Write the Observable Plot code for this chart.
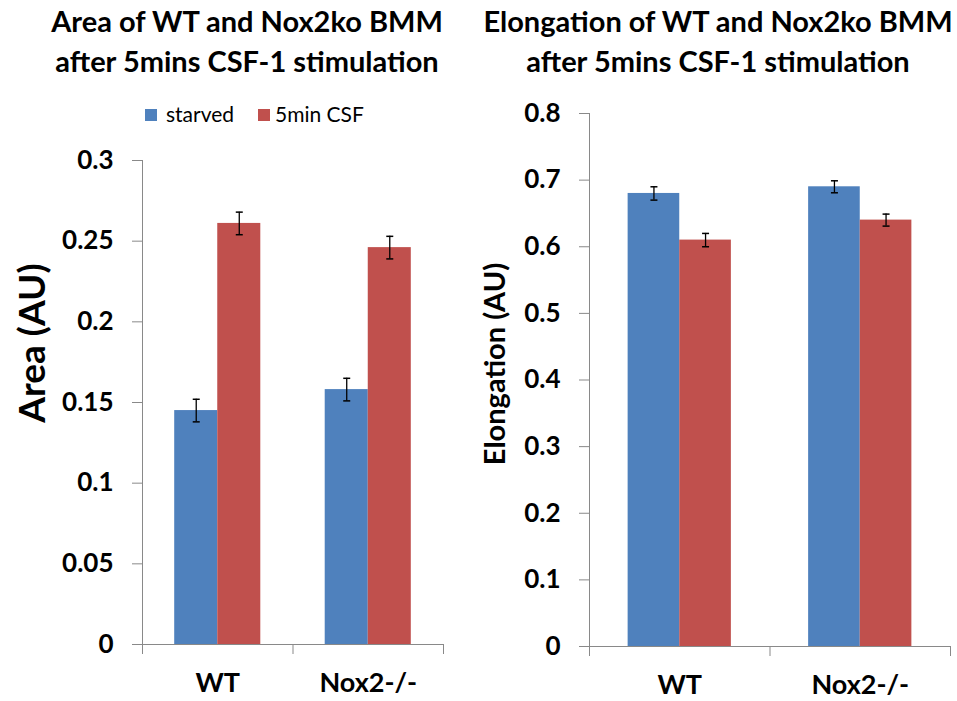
<!DOCTYPE html>
<html><head><meta charset="utf-8">
<script src="https://cdn.jsdelivr.net/npm/d3@7"></script>
<script src="https://cdn.jsdelivr.net/npm/@observablehq/plot@0.6"></script>
<style>
body{margin:0;background:#fff;font-family:Lato,"Open Sans",sans-serif;color:#000;}
#root{position:relative;width:957px;height:701px;overflow:hidden;background:#fff;}
.title{position:absolute;font-weight:700;font-size:29px;line-height:40px;text-align:center;white-space:nowrap;transform:translateX(-50%);}
.ylab{position:absolute;font-weight:700;white-space:nowrap;transform:translate(-50%,-50%) rotate(-90deg);line-height:1;}
.legend{position:absolute;font-size:21px;white-space:nowrap;line-height:1;}
.sw{position:absolute;width:12px;height:12px;}
.panel{position:absolute;}
.panel svg text{font-weight:700;}
</style></head><body><div id="root"></div>
<script>
const categories = ["WT", "Nox2-/-"];
const series = ["starved", "5min CSF"];
const colors = ["#4F81BD", "#C0504D"];

const areaStarved = [0.145, 0.158];
const areaCSF = [0.261, 0.246];
const areaStarvedErr = [0.007, 0.007];
const areaCSFErr = [0.007, 0.007];
const areaTicks = [0, 0.05, 0.1, 0.15, 0.2, 0.25, 0.3];

const elongStarved = [0.68, 0.69];
const elongCSF = [0.61, 0.64];
const elongStarvedErr = [0.010, 0.009];
const elongCSFErr = [0.010, 0.009];
const elongTicks = [0, 0.1, 0.2, 0.3, 0.4, 0.5, 0.6, 0.7, 0.8];

const titles = [
  ["Area of WT and Nox2ko BMM", "after 5mins CSF-1 stimulation"],
  ["Elongation of WT and Nox2ko BMM", "after 5mins CSF-1 stimulation"]
];
const yLabels = ["Area (AU)", "Elongation (AU)"];

const root = document.getElementById("root");

function rowsOf(vals, errs) {
  const rows = [];
  categories.forEach((c, i) => {
    series.forEach((s, j) => {
      rows.push({cat: c, ci: i, ser: s, sj: j, v: vals[j][i], e: errs[j][i]});
    });
  });
  return rows;
}

const OFF = 0.214, BW = 0.286;
const grey = "#898989";

function panel(rows, ticks, opts) {
  const xr = opts.width - opts.marginLeft - opts.marginRight;
  const cap = 3.5 / (xr / 2);
  const x1 = d => d.ci + OFF + d.sj * BW;
  const x2 = d => x1(d) + BW;
  const xc = d => x1(d) + BW / 2;
  const p = Plot.plot({
    width: opts.width, height: opts.height,
    marginTop: opts.marginTop, marginBottom: opts.marginBottom,
    marginLeft: opts.marginLeft, marginRight: opts.marginRight,
    x: {domain: [0, 2], label: null},
    y: {domain: [0, ticks[ticks.length - 1]], label: null},
    color: {domain: series, range: colors},
    style: {fontFamily: "Lato, 'Open Sans', sans-serif", background: "white", overflow: "visible", color: "black"},
    marks: [
      Plot.rectY(rows, {x1, x2, y1: 0, y2: "v", fill: "ser"}),
      Plot.ruleX([0], {stroke: grey}),
      Plot.ruleY([0], {stroke: grey}),
      Plot.axisY({ticks, tickSize: 10, tickPadding: 19, tickFormat: d => String(d), fontSize: 26, fontWeight: "bold", stroke: grey, fill: "black", label: null}),
      Plot.axisX({ticks: [0, 1, 2], tickSize: 10, tickFormat: () => "", stroke: grey, label: null}),
      Plot.axisX({ticks: [0.5, 1.5], tickSize: 0, tickPadding: 28, tickFormat: d => categories[Math.floor(d)], fontSize: 27, fontWeight: "bold", fill: "black", label: null}),
      Plot.ruleX(rows, {x: xc, y1: d => d.v - d.e, y2: d => d.v + d.e, stroke: "black", strokeWidth: 1.3}),
      Plot.link(rows, {x1: d => xc(d) - cap, x2: d => xc(d) + cap, y1: d => d.v + d.e, y2: d => d.v + d.e, stroke: "black", strokeWidth: 1.5}),
      Plot.link(rows, {x1: d => xc(d) - cap, x2: d => xc(d) + cap, y1: d => d.v - d.e, y2: d => d.v - d.e, stroke: "black", strokeWidth: 1.5})
    ]
  });
  const wrap = document.createElement("div");
  wrap.className = "panel";
  wrap.style.left = opts.left + "px";
  wrap.style.top = opts.top + "px";
  wrap.appendChild(p);
  root.appendChild(wrap);
}

panel(rowsOf([areaStarved, areaCSF], [areaStarvedErr, areaCSFErr]), areaTicks,
  {left: 0, top: 140, width: 470, height: 561, marginTop: 20, marginBottom: 57, marginLeft: 142, marginRight: 27});
panel(rowsOf([elongStarved, elongCSF], [elongStarvedErr, elongCSFErr]), elongTicks,
  {left: 478, top: 90, width: 479, height: 611, marginTop: 23, marginBottom: 55, marginLeft: 111, marginRight: 7});

// titles
[[247, titles[0]], [718, titles[1]]].forEach(([cx, lines]) => {
  const t = document.createElement("div");
  t.className = "title";
  t.style.left = cx + "px";
  t.style.top = "1px";
  t.innerHTML = lines.map(l => `<div>${l}</div>`).join("");
  root.appendChild(t);
});

// y labels
[[30, 343, yLabels[0], 37], [493, 364, yLabels[1], 29]].forEach(([x, y, txt, fs]) => {
  const d = document.createElement("div");
  d.className = "ylab";
  d.style.left = x + "px";
  d.style.top = y + "px";
  d.style.fontSize = fs + "px";
  d.textContent = txt;
  root.appendChild(d);
});

// legend
[[145, 166], [258, 275]].forEach(([sx, tx], j) => {
  const s = document.createElement("div");
  s.className = "sw";
  s.style.left = sx + "px";
  s.style.top = "109px";
  s.style.background = colors[j];
  root.appendChild(s);
  const t = document.createElement("div");
  t.className = "legend";
  t.style.left = tx + "px";
  t.style.top = "103px";
  t.textContent = series[j];
  root.appendChild(t);
});
</script></body></html>
